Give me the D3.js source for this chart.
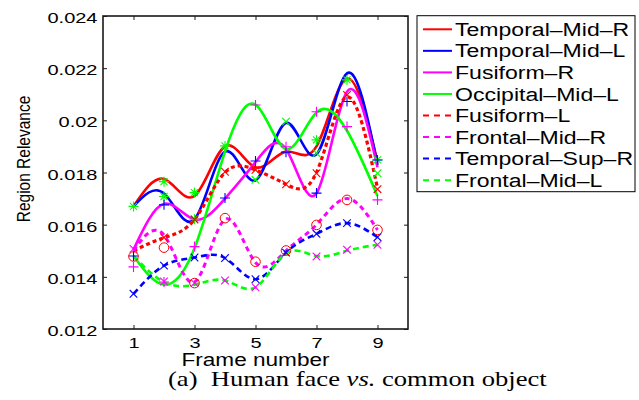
<!DOCTYPE html>
<html><head><meta charset="utf-8">
<script src="https://cdn.jsdelivr.net/npm/d3@7"></script>
<style>body{margin:0;background:#fff}svg{display:block}</style>
</head><body><svg id="c" width="639" height="400"></svg>
<script>
// ---------- data ----------
const frames = [1, 2, 3, 4, 5, 6, 7, 8, 9];
const seriesNames = ["Temporal\u2013Mid\u2013R", "Temporal\u2013Mid\u2013L", "Fusiform\u2013R", "Occipital\u2013Mid\u2013L",
  "Fusiform\u2013L", "Frontal\u2013Mid\u2013R", "Temporal\u2013Sup\u2013R", "Frontal\u2013Mid\u2013L"];
const temporalMidR  = [0.0167, 0.01775, 0.0171, 0.0190, 0.0182, 0.0188, 0.0190, 0.0216, 0.0184];
const temporalMidL  = [0.0167, 0.0172, 0.0162, 0.0188, 0.0177, 0.0199, 0.0187, 0.0218, 0.0183];
const fusiformR     = [0.01505, 0.0168, 0.0162, 0.0170, 0.0184, 0.0189, 0.0172, 0.0211, 0.0182];
const occipitalMidL = [0.0148, 0.0137, 0.0151, 0.0188, 0.0206, 0.0189, 0.0203, 0.0196, 0.0171];
const fusiformL     = [0.0150, 0.0155, 0.0162, 0.0180, 0.0181, 0.01755, 0.0180, 0.0209, 0.0174];
const frontalMidR   = [0.0150, 0.0156, 0.0138, 0.0162, 0.01455, 0.0150, 0.0160, 0.0170, 0.0158];
const temporalSupR  = [0.01335, 0.01443, 0.01474, 0.01472, 0.01391, 0.01493, 0.01565, 0.01606, 0.01552];
const frontalMidL   = [0.0148, 0.0138, 0.0137, 0.01386, 0.0136, 0.0149, 0.0148, 0.0150, 0.01523];
const seriesValues = [temporalMidR, temporalMidL, fusiformR, occipitalMidL, fusiformL, frontalMidR, temporalSupR, frontalMidL];

// marker points [frame, value]
const greenStars   = [[1,0.0167],[2,0.01765],[2,0.01708],[3,0.01723],[3,0.01621],[4,0.01902],[7,0.01925],[8,0.02155],[9,0.01848]];
const greenCrosses = [[5,0.01772],[6,0.01995],[7,0.01874],[9,0.01797]];
const bluePlus     = [[1,0.0148],[2,0.01676],[4,0.01702],[5,0.01844],[6,0.01878],[7,0.01721],[8,0.02072],[9,0.01848]];
const magentaPlus  = [[1,0.01438],[2,0.0138],[3,0.01516],[5,0.02059],[6,0.01899],[7,0.02033],[8,0.01976],[9,0.01695]];
const redCrosses   = [[2,0.01551],[3,0.0162],[4,0.01803],[5,0.0181],[6,0.01755],[7,0.01797],[8,0.02097],[9,0.01736]];
const redCircles   = [[1,0.01478],[2,0.01512],[3,0.01376],[4,0.01625],[5,0.01458],[6,0.01501],[7,0.01599],[8,0.01695],[9,0.0158]];
const blueCrosses  = [[1,0.01335],[2,0.01443],[3,0.01474],[4,0.01472],[5,0.01391],[6,0.01493],[7,0.01565],[8,0.01606],[9,0.01552]];
const magentaCrosses = [[1,0.01507],[2,0.01382],[3,0.01376],[4,0.01386],[5,0.0136],[7,0.01478],[8,0.01504],[9,0.01523]];

const yTicks = [0.012, 0.014, 0.016, 0.018, 0.02, 0.022, 0.024];
const xTicks = [1, 3, 5, 7, 9];

// ---------- styles ----------
const lineStyles = [
  {c:"#ff0000", dash:null, w:2.6},
  {c:"#0000ff", dash:null, w:2.6},
  {c:"#ff00ff", dash:null, w:2.6},
  {c:"#00ff00", dash:null, w:2.6},
  {c:"#ff0000", dash:"4,3", w:3.2},
  {c:"#ff00ff", dash:"5,4", w:3},
  {c:"#0000ff", dash:"6,4", w:2.6},
  {c:"#00ff00", dash:"6,4", w:2.6}
];
const markerGroups = [
  {pts:greenStars, sym:"star", c:"#00ff00"},
  {pts:greenCrosses, sym:"x", c:"#00ff00"},
  {pts:bluePlus, sym:"plus", c:"#0000ff"},
  {pts:magentaPlus, sym:"plus", c:"#ff00ff"},
  {pts:redCrosses, sym:"x", c:"#ff0000"},
  {pts:blueCrosses, sym:"x", c:"#0000ff"},
  {pts:magentaCrosses, sym:"x", c:"#ff00ff"},
  {pts:redCircles, sym:"circle", c:"#ff0000"}
];
const K = 1.29; // horizontal stretch of the original figure

const svg = d3.select("#c");
const L = 103, R = 408, T = 16, B = 329;
const x = d3.scaleLinear().domain([0, 10]).range([L, R]);
const y = d3.scaleLinear().domain([0.012, 0.024]).range([B, T]);

function stretch(sel, k) {
  sel.each(function() {
    const w = this.getComputedTextLength();
    this.setAttribute("textLength", w * k);
    this.setAttribute("lengthAdjust", "spacingAndGlyphs");
  });
}

// lines
const line = d3.line().x((d, i) => x(frames[i])).y(d => y(d)).curve(d3.curveNatural);
const gLines = svg.append("g");
seriesValues.forEach((vals, i) => {
  const s = lineStyles[i];
  gLines.append("path").attr("d", line(vals)).attr("fill", "none")
    .attr("stroke", s.c).attr("stroke-width", s.w)
    .attr("stroke-dasharray", s.dash).attr("stroke-linejoin", "round");
});

// markers
const symPath = {
  plus: "M-5,0H5M0,-5V5",
  x: "M-3.8,-3.8L3.8,3.8M-3.8,3.8L3.8,-3.8",
  star: "M-5,0H5M0,-5V5M-3.5,-3.5L3.5,3.5M-3.5,3.5L3.5,-3.5"
};
const gMk = svg.append("g");
markerGroups.forEach(g => {
  g.pts.forEach(p => {
    if (g.sym === "circle") {
      gMk.append("circle").attr("cx", x(p[0])).attr("cy", y(p[1])).attr("r", 4.8)
        .attr("fill", "none").attr("stroke", g.c).attr("stroke-width", 1);
    } else {
      gMk.append("path").attr("d", symPath[g.sym])
        .attr("transform", `translate(${x(p[0])},${y(p[1])})`)
        .attr("fill", "none").attr("stroke", g.c).attr("stroke-width", 1.1);
    }
  });
});

// axes box
svg.append("rect").attr("x", L).attr("y", T).attr("width", R - L).attr("height", B - T)
  .attr("fill", "none").attr("stroke", "#1a1a1a").attr("stroke-width", 1.6);

const fontSans = "'Liberation Sans', Arial, Helvetica, sans-serif";
const xAx = svg.append("g").attr("transform", `translate(0,${B})`)
  .call(d3.axisBottom(x).tickValues(xTicks).tickSizeInner(-4).tickSizeOuter(0).tickPadding(7.5).tickFormat(d3.format("d")));
const xAxTop = svg.append("g").attr("transform", `translate(0,${T})`)
  .call(d3.axisTop(x).tickValues(xTicks).tickSizeInner(-4).tickSizeOuter(0).tickFormat(""));
const yAx = svg.append("g").attr("transform", `translate(${L},0)`)
  .call(d3.axisLeft(y).tickValues(yTicks).tickSizeInner(-4).tickSizeOuter(0).tickPadding(5.5).tickFormat(d => d3.format("")(+d.toFixed(3))));
const yAxR = svg.append("g").attr("transform", `translate(${R},0)`)
  .call(d3.axisRight(y).tickValues(yTicks).tickSizeInner(-4).tickSizeOuter(0).tickFormat(""));
[xAx, xAxTop, yAx, yAxR].forEach(a => {
  a.select(".domain").remove();
  a.selectAll("line").attr("stroke", "#1a1a1a").attr("stroke-width", 1);
  a.selectAll("text").attr("fill", "#000").attr("font-family", fontSans).attr("font-size", 15.5);
});
yAx.selectAll("text").attr("dy", "0.42em");
stretch(xAx.selectAll("text"), K);
stretch(yAx.selectAll("text"), K);

// axis titles
const xt = svg.append("text").attr("x", 255.5).attr("y", 365.5).attr("text-anchor", "middle")
  .attr("font-family", fontSans).attr("font-size", 17.5).text("Frame number");
stretch(xt, K);
svg.append("text").attr("transform", "translate(30,159) rotate(-90) scale(1,1.2)")
  .attr("text-anchor", "middle").attr("font-family", fontSans).attr("font-size", 15.5)
  .text("Region Relevance");

// legend
const lg = svg.append("g");
lg.append("rect").attr("x", 417).attr("y", 15.7).attr("width", 218).attr("height", 176)
  .attr("fill", "#fff").attr("stroke", "#000").attr("stroke-width", 1);
seriesNames.forEach((n, i) => {
  const cy = 29.3 + i * 21.55;
  const s = lineStyles[i];
  lg.append("line").attr("x1", 423).attr("x2", 452).attr("y1", cy).attr("y2", cy)
    .attr("stroke", s.c).attr("stroke-width", 2).attr("stroke-dasharray", s.dash ? "6,5" : null);
  const t = lg.append("text").attr("x", 455).attr("y", cy + 6.6)
    .attr("font-family", fontSans).attr("font-size", 18).text(n);
  stretch(t, K - 0.01);
});

// caption
const cap = svg.append("text").attr("font-family", "'Liberation Serif', 'Times New Roman', serif")
  .attr("font-size", 20).attr("transform", "translate(168,386) scale(1.33,1)");
cap.append("tspan").text("(a)\u00a0\u00a0Human face ");
cap.append("tspan").attr("font-style", "italic").text("vs.");
cap.append("tspan").text(" common object");
</script></body></html>
